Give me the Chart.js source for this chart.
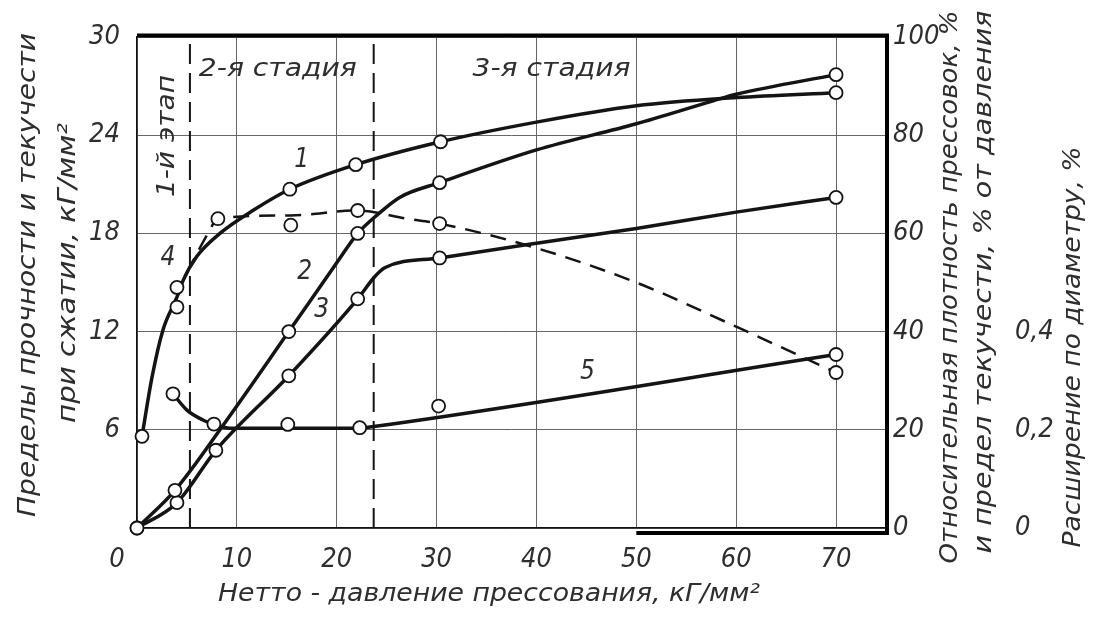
<!DOCTYPE html>
<html>
<head>
<meta charset="utf-8">
<script src="https://cdn.jsdelivr.net/npm/chart.js@4.4.0/dist/chart.umd.min.js"></script>
<style>
  html, body { margin: 0; padding: 0; background: #fff; }
</style>
</head>
<body>
<canvas id="grafica" width="1103" height="618"></canvas>
<script>
// Curva 1: limite de resistencia (eje izquierdo, кГ/мм²)
const curva1X = [0.5, 1.5, 2.6, 4.0, 4.6, 6.0, 8.3, 11.6, 15.3, 21.9, 30.4, 40, 50, 60, 70];
const curva1Y = [5.6, 9.2, 12.1, 14.1, 15.1, 16.6, 18.0, 19.4, 20.7, 22.2, 23.6, 24.8, 25.8, 26.3, 26.6];
const puntos1X = [0.5, 4.0, 4.0, 15.3, 21.9, 30.4, 70];
const puntos1Y = [5.6, 13.5, 14.7, 20.7, 22.2, 23.6, 26.6];

// Curva 2
const curva2X = [0, 3.8, 9.0, 15.2, 20.0, 22.1, 24.0, 26.3, 30.3, 40, 50, 57.7, 60, 70];
const curva2Y = [0, 2.3, 6.6, 12.0, 16.2, 18.0, 19.1, 20.2, 21.1, 23.1, 24.7, 26.1, 26.5, 27.7];
const puntos2X = [0, 3.8, 15.2, 22.1, 30.3, 70];
const puntos2Y = [0, 2.3, 12.0, 18.0, 21.1, 27.7];

// Curva 3
const curva3X = [0, 4.0, 7.9, 15.2, 22.1, 23.8, 24.8, 30.3, 40, 50, 60, 70];
const curva3Y = [0, 1.55, 4.75, 9.3, 14.0, 15.35, 15.9, 16.5, 17.4, 18.3, 19.3, 20.2];
const puntos3X = [0, 4.0, 7.9, 15.2, 22.1, 30.3, 70];
const puntos3Y = [0, 1.55, 4.75, 9.3, 14.0, 16.5, 20.2];

// Curva 4 (discontinua)
const curva4X = [5.0, 7.1, 8.1, 15.4, 22.1, 27.0, 30.3, 40, 50, 60, 70];
const curva4Y = [15.6, 18.0, 18.9, 19.1, 19.4, 18.9, 18.6, 17.1, 15.0, 12.3, 9.5];
const puntos4X = [8.1, 15.4, 22.1, 30.3, 70];
const puntos4Y = [18.9, 18.5, 19.4, 18.6, 9.5];

// Curva 5
const curva5X = [3.6, 5.0, 6.6, 7.7, 9.3, 15.1, 22.3, 23.7, 70];
const curva5Y = [8.2, 7.2, 6.6, 6.35, 6.1, 6.1, 6.1, 6.2, 10.6];
const puntos5X = [3.6, 7.7, 15.1, 22.3, 30.2, 70];
const puntos5Y = [8.2, 6.35, 6.33, 6.13, 7.45, 10.6];

// Limites de las etapas (lineas verticales discontinuas)
const limitesEtapas = [5.3, 23.7];

// Ticks de los ejes
const ticksX = [0, 10, 20, 30, 40, 50, 60, 70];
const ticksIzq = [0, 6, 12, 18, 24, 30];
const ticksDer = [0, 20, 40, 60, 80, 100];
const ticksExp = [0, 0.2, 0.4];

// Textos sobre la grafica
const nombresCurvas = ['1', '2', '3', '4', '5'];
const nombresX = [16.5, 16.8, 18.5, 3.1, 45.1];
const nombresY = [22.5, 15.6, 13.3, 16.5, 9.5];
const etapas = ['2-я стадия', '3-я стадия'];
const etapasX = [14.1, 41.5];
const etapasY = [28.0, 28.0];

const fuente = "'Liberation Sans Narrow', 'DejaVu Sans Condensed', 'Liberation Sans', sans-serif";
const colorTexto = '#2e2e2e';
const colorLinea = '#141414';

function xy(xs, ys) {
  return xs.map((x, i) => ({ x: x, y: ys[i] }));
}

function linea(xs, ys, dash) {
  return {
    data: xy(xs, ys),
    showLine: true,
    borderColor: colorLinea,
    borderWidth: dash ? 2.5 : 3.5,
    borderDash: dash || [],
    pointRadius: 0,
    cubicInterpolationMode: 'monotone',
    clip: false,
    order: 1
  };
}

function puntos(xs, ys) {
  return {
    data: xy(xs, ys),
    showLine: false,
    pointRadius: 6.5,
    pointBackgroundColor: '#fff',
    pointBorderColor: colorLinea,
    pointBorderWidth: 1.8,
    clip: false,
    order: 0
  };
}

let datasets = [
  linea(curva1X, curva1Y), linea(curva2X, curva2Y), linea(curva3X, curva3Y),
  linea(curva4X, curva4Y, [16, 10]), linea(curva5X, curva5Y),
  puntos(puntos1X, puntos1Y), puntos(puntos2X, puntos2Y), puntos(puntos3X, puntos3Y),
  puntos(puntos4X, puntos4Y), puntos(puntos5X, puntos5Y)
];
limitesEtapas.forEach(v => {
  datasets.push({
    data: [{ x: v, y: 0 }, { x: v, y: 30 }],
    showLine: true,
    borderColor: colorLinea,
    borderWidth: 2,
    borderDash: [20, 9],
    pointRadius: 0,
    order: 2
  });
});

// Escribe un texto estirado hasta un ancho dado
function texto(ctx, txt, x, y, size, ancho, rot) {
  ctx.save();
  ctx.font = 'italic ' + size + 'px ' + fuente;
  ctx.fillStyle = colorTexto;
  ctx.textAlign = 'center';
  ctx.textBaseline = 'middle';
  ctx.translate(x, y);
  if (rot) ctx.rotate(rot);
  if (ancho) {
    const w = ctx.measureText(txt).width;
    ctx.scale(ancho / w, 1);
  }
  ctx.fillText(txt, 0, 0);
  ctx.restore();
}

const fondo = {
  id: 'fondo',
  beforeDraw(chart) {
    const c = chart.ctx;
    c.save();
    c.fillStyle = '#fff';
    c.fillRect(0, 0, chart.width, chart.height);
    c.restore();
  }
};

const marcoYTextos = {
  id: 'marcoYTextos',
  afterDraw(chart) {
    const c = chart.ctx;
    const a = chart.chartArea;
    const sx = chart.scales.x;
    const sy = chart.scales.y;
    const up = -Math.PI / 2;

    // marco grueso arriba, derecha y parte de abajo
    c.save();
    c.strokeStyle = '#000';
    c.lineWidth = 4;
    c.beginPath();
    c.moveTo(a.left, a.top - 1.5);
    c.lineTo(a.right + 1, a.top - 1.5);
    c.lineTo(a.right + 1, a.bottom + 5);
    c.lineTo(sx.getPixelForValue(50), a.bottom + 5);
    c.stroke();
    c.restore();

    // titulos de los ejes
    texto(c, 'Пределы прочности и текучести', 28, 275, 25, 484, up);
    texto(c, 'при сжатии, кГ/мм²', 68, 273, 25, 300, up);
    texto(c, 'Относительная плотность прессовок, %', 950, 287, 25, 553, up);
    texto(c, 'и предел текучести, % от давления', 984, 282, 25, 543, up);
    texto(c, 'Расширение по диаметру, %', 1073, 347, 25, 401, up);
    texto(c, 'Нетто - давление прессования, кГ/мм²', 489, 594, 25, 542);
    texto(c, '0', sx.getPixelForValue(0) - 20, 560, 27);

    // etapas
    etapas.forEach((t, i) => {
      texto(c, t, sx.getPixelForValue(etapasX[i]), sy.getPixelForValue(etapasY[i]), 25, 158);
    });
    texto(c, '1-й этап', sx.getPixelForValue(3.1), sy.getPixelForValue(23.95), 25, 122, up);

    // numeros de las curvas
    nombresCurvas.forEach((t, i) => {
      texto(c, t, sx.getPixelForValue(nombresX[i]), sy.getPixelForValue(nombresY[i]), 26);
    });
  }
};

const fuenteTicks = { family: fuente, size: 27, style: 'italic' };

function fijarTicks(lista) {
  return s => { s.ticks = lista.map(v => ({ value: v })); };
}

const ctx = document.getElementById('grafica');
let grafica = new Chart(ctx, {
  type: 'scatter',
  data: { datasets: datasets },
  options: {
    responsive: false,
    animation: false,
    devicePixelRatio: 1,
    layout: { padding: { top: 37, right: 0, bottom: 0, left: 0 } },
    plugins: { legend: { display: false }, tooltip: { enabled: false } },
    scales: {
      x: {
        type: 'linear', min: 0, max: 75,
        afterBuildTicks: fijarTicks(ticksX),
        ticks: { font: fuenteTicks, color: colorTexto, padding: 16, callback: v => v === 0 ? '' : v },
        grid: { color: '#666', lineWidth: 1, drawTicks: false },
        border: { color: '#111', width: 1.5 },
        afterFit: s => { s.height = 90; }
      },
      y: {
        type: 'linear', min: 0, max: 30,
        afterBuildTicks: fijarTicks(ticksIzq),
        ticks: { font: fuenteTicks, color: colorTexto, padding: 17, callback: v => v === 0 ? '' : v },
        grid: { color: '#666', lineWidth: 1, drawTicks: false },
        border: { color: '#111', width: 1.5 },
        afterFit: s => { s.width = 137; }
      },
      y2: {
        type: 'linear', position: 'right', min: 0, max: 100,
        afterBuildTicks: fijarTicks(ticksDer),
        ticks: { font: fuenteTicks, color: colorTexto, padding: 7 },
        grid: { display: false, drawTicks: false },
        border: { display: false },
        afterFit: s => { s.width = 125; }
      },
      y3: {
        type: 'linear', position: 'right', min: 0, max: 1,
        afterBuildTicks: fijarTicks(ticksExp),
        ticks: { font: fuenteTicks, color: colorTexto, padding: 4,
          callback: v => v === 0 ? '0' : v.toFixed(1).replace('.', ',') },
        grid: { display: false, drawTicks: false },
        border: { display: false },
        afterFit: s => { s.width = 92; }
      }
    }
  },
  plugins: [fondo, marcoYTextos]
});
</script>
</body>
</html>
